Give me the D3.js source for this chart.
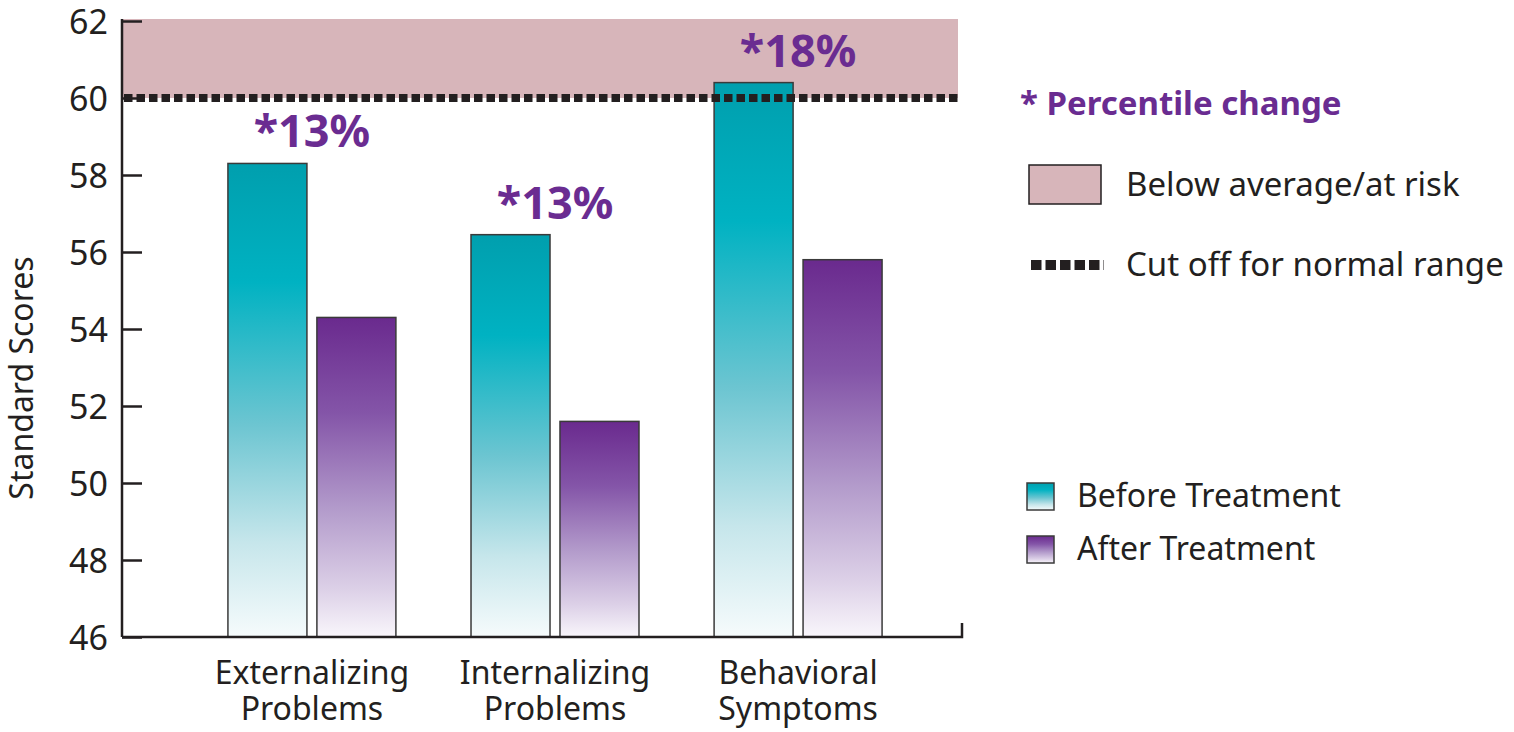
<!DOCTYPE html>
<html>
<head>
<meta charset="utf-8">
<script src="https://cdn.jsdelivr.net/npm/d3@7"></script>
<style>
  body { margin: 0; background: #fff; }
  text { font-family: "Noto Sans", sans-serif; fill: #231f20; }
</style>
</head>
<body>
<div id="chart"></div>
<script>
// chart data
const categories = [["Externalizing", "Problems"], ["Internalizing", "Problems"], ["Behavioral", "Symptoms"]];
const beforeValues = [58.3, 56.45, 60.4];
const afterValues = [54.3, 51.6, 55.8];
const changeLabels = ["*13%", "*13%", "*18%"];
const yTicks = [46, 48, 50, 52, 54, 56, 58, 60, 62];
const riskBand = [60, 62];
const cutoff = 60;
const seriesNames = ["Before Treatment", "After Treatment"];

const width = 1514, height = 732;
const purple = "#6a2c91";
const ink = "#231f20";

const svg = d3.select("#chart").append("svg")
    .attr("width", width)
    .attr("height", height);

// gradients for the bars (per bar, top to bottom)
const defs = svg.append("defs");
const gradients = [
    { id: "grad-before", stops: [[0, "#009fae"], [0.25, "#00b2c2"], [0.55, "#6cc5d1"], [0.8, "#c6e6eb"], [1, "#f6fbfc"]] },
    { id: "grad-after", stops: [[0, "#6a2a8e"], [0.3, "#8455a8"], [0.6, "#b39bcb"], [0.85, "#dcd0e7"], [1, "#f9f6fb"]] }
];
gradients.forEach(g => {
    const lg = defs.append("linearGradient")
        .attr("id", g.id)
        .attr("x1", 0).attr("y1", 0).attr("x2", 0).attr("y2", 1);
    lg.selectAll("stop").data(g.stops).join("stop")
        .attr("offset", d => d[0])
        .attr("stop-color", d => d[1]);
});

// scales
const y = d3.scaleLinear().domain([46, 62]).range([637, 21]);
const axisLeftX = 122, axisRightX = 962;

const x0 = d3.scaleBand()
    .domain(d3.range(categories.length))
    .range([155, 955])
    .paddingInner(0.309)
    .paddingOuter(0.3);
const x1 = d3.scaleBand()
    .domain([0, 1])
    .range([0, x0.bandwidth()])
    .paddingInner(0.112);

// risk band
svg.append("rect")
    .attr("x", axisLeftX)
    .attr("y", y(riskBand[1]) - 2)
    .attr("width", 958 - axisLeftX)
    .attr("height", y(riskBand[0]) - y(riskBand[1]) + 2)
    .attr("fill", "#d7b5ba");

// bars
const groups = svg.selectAll(".group")
    .data(categories.map((c, i) => ({ i, values: [beforeValues[i], afterValues[i]] })))
    .join("g")
    .attr("class", "group")
    .attr("transform", d => `translate(${x0(d.i)},0)`);

groups.selectAll("rect")
    .data(d => d.values.map((v, k) => ({ v, k })))
    .join("rect")
    .attr("x", d => x1(d.k))
    .attr("y", d => y(d.v))
    .attr("width", x1.bandwidth())
    .attr("height", d => y(46) - y(d.v))
    .attr("fill", d => d.k === 0 ? "url(#grad-before)" : "url(#grad-after)")
    .attr("stroke", "#3a3a3a")
    .attr("stroke-width", 1.5);

// cutoff line
svg.append("line")
    .attr("x1", axisLeftX + 2)
    .attr("x2", 958)
    .attr("y1", y(cutoff))
    .attr("y2", y(cutoff))
    .attr("stroke", ink)
    .attr("stroke-width", 8)
    .attr("stroke-dasharray", "8.5 4");

// percentile change labels
groups.append("text")
    .attr("x", x0.bandwidth() / 2)
    .attr("y", d => y(d.values[0]) - 16)
    .attr("text-anchor", "middle")
    .attr("font-size", 45)
    .attr("font-weight", "bold")
    .style("fill", purple)
    .text(d => changeLabels[d.i]);

// y axis
const yAxis = svg.append("g")
    .attr("transform", `translate(${axisLeftX},0)`)
    .call(d3.axisLeft(y).tickValues(yTicks).tickSizeInner(-20).tickSizeOuter(0).tickPadding(14));
yAxis.select(".domain").attr("stroke", ink).attr("stroke-width", 2.5)
    .attr("d", `M0,${y(46)}V${y(62) - 2}`);
yAxis.selectAll(".tick line").attr("stroke", ink).attr("stroke-width", 2.5);
yAxis.selectAll(".tick text")
    .attr("font-size", 34)
    .attr("dy", "0.36em")
    .style("fill", ink)
    .style("font-family", "'Noto Sans', sans-serif");

// x axis baseline with closing tick
svg.append("path")
    .attr("d", `M${axisLeftX},${y(46)}H${axisRightX}V${y(46) - 14}`)
    .attr("fill", "none")
    .attr("stroke", ink)
    .attr("stroke-width", 2.5);

// category labels
groups.append("text")
    .attr("x", x0.bandwidth() / 2)
    .attr("y", 684)
    .attr("text-anchor", "middle")
    .attr("font-size", 32)
    .selectAll("tspan")
    .data(d => categories[d.i])
    .join("tspan")
    .attr("x", x0.bandwidth() / 2)
    .attr("dy", (d, k) => k === 0 ? 0 : 36)
    .text(d => d);

// y axis title
svg.append("text")
    .attr("transform", `translate(33,378) rotate(-90)`)
    .attr("text-anchor", "middle")
    .attr("font-size", 32)
    .text("Standard Scores");

// legend
const legend = svg.append("g");
legend.append("text")
    .attr("x", 1020)
    .attr("y", 115)
    .attr("font-size", 33)
    .attr("font-weight", "bold")
    .style("fill", purple)
    .text("* Percentile change");

legend.append("rect")
    .attr("x", 1029).attr("y", 165)
    .attr("width", 72).attr("height", 39)
    .attr("fill", "#d7b5ba")
    .attr("stroke", ink).attr("stroke-width", 1.5);
legend.append("text")
    .attr("x", 1126).attr("y", 196)
    .attr("font-size", 33)
    .text("Below average/at risk");

legend.append("line")
    .attr("x1", 1031).attr("x2", 1104)
    .attr("y1", 265).attr("y2", 265)
    .attr("stroke", ink)
    .attr("stroke-width", 10)
    .attr("stroke-dasharray", "10.5 4");
legend.append("text")
    .attr("x", 1126).attr("y", 276)
    .attr("font-size", 33)
    .text("Cut off for normal range");

const seriesLegend = legend.selectAll(".series")
    .data(seriesNames)
    .join("g")
    .attr("class", "series")
    .attr("transform", (d, i) => `translate(1027,${483 + i * 53})`);
seriesLegend.append("rect")
    .attr("width", 27).attr("height", 27)
    .attr("fill", (d, i) => i === 0 ? "url(#grad-before)" : "url(#grad-after)")
    .attr("stroke", "#3a3a3a").attr("stroke-width", 1.5);
seriesLegend.append("text")
    .attr("x", 50).attr("y", 24)
    .attr("font-size", 32)
    .text(d => d);
</script>
</body>
</html>
